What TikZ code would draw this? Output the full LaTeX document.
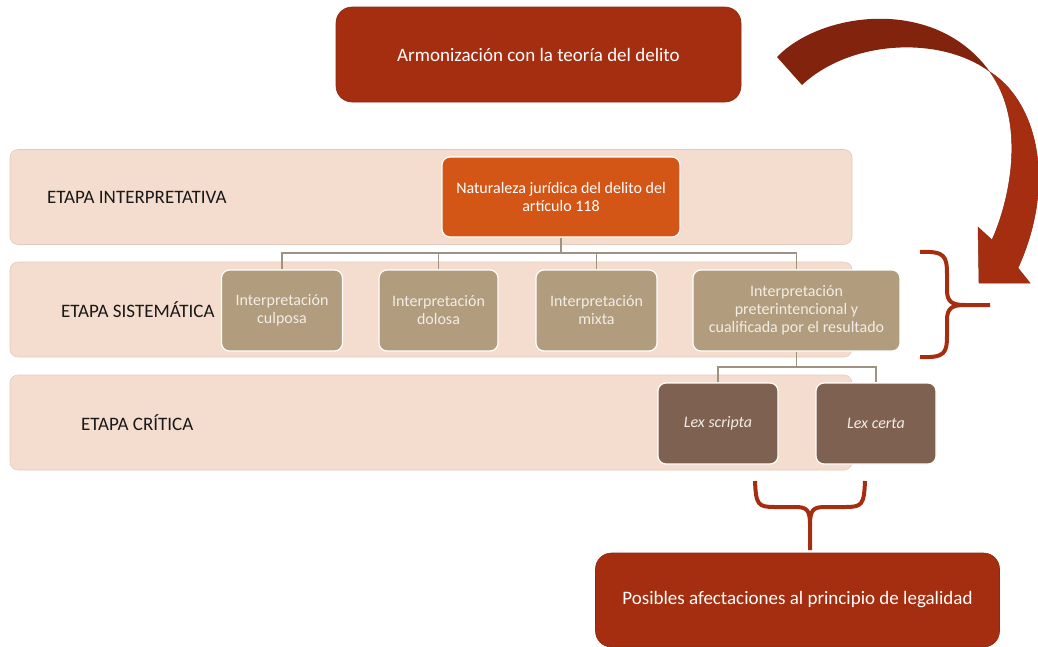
\documentclass[tikz,border=0pt]{standalone}
\usepackage{fontspec}
\setmainfont{Carlito}
\usetikzlibrary{positioning}
\definecolor{bandfill}{HTML}{F4DDCE}
\definecolor{bandline}{HTML}{E2CABC}
\definecolor{redbox}{HTML}{A52E10}
\definecolor{redline}{HTML}{8B2A12}
\definecolor{orangebox}{HTML}{D45616}
\definecolor{tanbox}{HTML}{B19C7D}
\definecolor{brownbox}{HTML}{7F6152}
\definecolor{treeline}{HTML}{A09282}
\definecolor{arrowback}{HTML}{82240D}
\definecolor{lighttext}{HTML}{F2EDE6}
\begin{document}
\begin{tikzpicture}[
        x=1pt, y=-1pt,
        band/.style={draw=bandline, fill=bandfill, line width=0.6pt, rounded corners=8pt,
            minimum width=842pt, minimum height=95pt},
        stagelabel/.style={anchor=west, inner sep=0pt, text=black!90, font=\fontsize{19}{22}\selectfont},
        redshape/.style={draw=redline, fill=redbox, line width=0.6pt, rounded corners=16pt,
            text=white, minimum width=405pt, minimum height=95pt, font=\fontsize{19}{22}\selectfont},
        natbox/.style={draw=white, fill=orangebox, line width=1.2pt, rounded corners=8pt,
            text=white, align=center, minimum width=238pt, minimum height=80pt,
            font=\fontsize{16}{18.5}\selectfont},
        interp/.style={draw=white, fill=tanbox, line width=1.2pt, rounded corners=8pt,
            text=lighttext, align=center, minimum width=121pt, minimum height=81pt,
            font=\fontsize{16}{18}\selectfont},
        lexbox/.style={draw=white, fill=brownbox, line width=1.2pt, rounded corners=8pt,
            text=lighttext, minimum width=120pt, minimum height=81pt,
            font=\fontsize{16}{18}\selectfont\itshape},
        tree/.style={draw=treeline, line width=1.5pt},
        brace/.style={draw=redbox, line width=4pt},
    ]
        \useasboundingbox (0,0) rectangle (1038,646);
        % stages
        \node[band] (etapaI) at (431,197) {};
        \node[band] (etapaS) at (431,309.5) {};
        \node[band] (etapaC) at (431,422.5) {};
        \node[stagelabel] (labelI) at (47,197) {ETAPA INTERPRETATIVA};
        \node[stagelabel] (labelS) at (61,310) {ETAPA SISTEMÁTICA};
        \node[stagelabel] (labelC) at (81,423) {ETAPA CRÍTICA};
        % boxes
        \node[redshape] (armon) at (538.5,54.5) {Armonización con la teoría del delito};
        \node[natbox] (nat) at (561,197) {Naturaleza jurídica del delito del\\artículo 118};
        \node[interp] (culposa) at (282,310.5) {Interpretación\\culposa};
        \node[interp, minimum width=119pt] (dolosa) at (438.5,310.5) {Interpretación\\dolosa};
        \node[interp] (mixta) at (596.5,310.5) {Interpretación\\mixta};
        \node[interp, minimum width=207pt] (preter) at (796.5,310.5) {Interpretación\\preterintencional y\\cualificada por el resultado};
        \node[lexbox] (scripta) at (718,423.5) {Lex scripta};
        \node[lexbox] (certa) at (876,423.5) {Lex certa};
        \node[redshape, minimum width=404pt, minimum height=94pt] (posibles) at (797.5,600) {Posibles afectaciones al principio de legalidad};
        % tree lines
        \coordinate (busS) at (561,253);
        \draw[tree] (nat.south) -- (busS);
        \draw[tree] (culposa.north) |- (busS) -| (preter.north);
        \draw[tree] (dolosa.north) -- (dolosa.north |- busS);
        \draw[tree] (mixta.north) -- (mixta.north |- busS);
        \coordinate (busC) at (796.5,367);
        \draw[tree] (preter.south) -- (busC);
        \draw[tree] (scripta.north) |- (busC) -| (certa.north);
        % braces
        \draw[brace] (920,252) .. controls (945,251) and (947,256) .. (947,275) -- (947,290)
            .. controls (947,302) and (952,305) .. (965,305) -- (990,305);
        \draw[brace] (920,357) .. controls (945,358) and (947,353) .. (947,335) -- (947,320)
            .. controls (947,308) and (952,305) .. (965,305);
        \draw[brace] (755,481) .. controls (756,505) and (758,507) .. (775,507) -- (795,507)
            .. controls (807,507) and (810,510) .. (810,525) -- (810,550);
        \draw[brace] (865,481) .. controls (864,505) and (862,507) .. (845,507) -- (825,507)
            .. controls (813,507) and (810,510) .. (810,525);
        % curved arrow
        \fill[arrowback] (777,57) .. controls (820,12) and (935,-5) .. (990,72)
            .. controls (940,35) and (850,40) .. (802,85) -- cycle;
        \filldraw[fill=redbox, draw=redline, line width=0.5pt] (990,72) .. controls (1035,100) and (1058,180) .. (1018,268)
            -- (1030,283) -- (979,283) -- (978,227) -- (992,240)
            .. controls (1012,195) and (1025,120) .. (990,72) -- cycle;
    \end{tikzpicture}
\end{document}
